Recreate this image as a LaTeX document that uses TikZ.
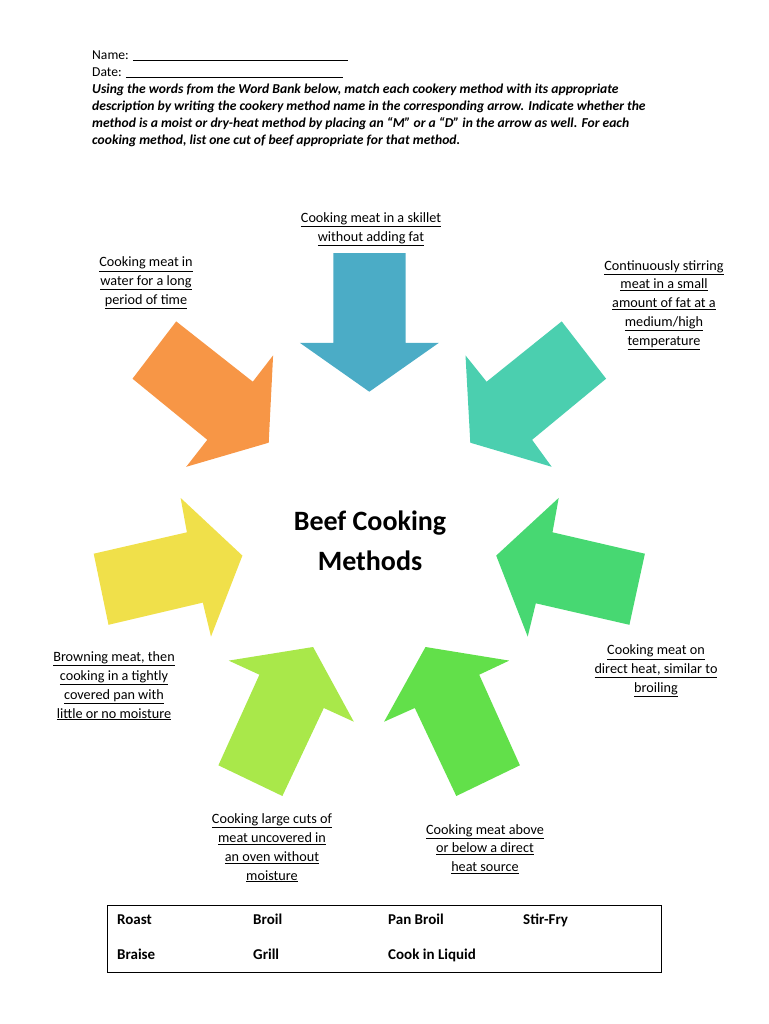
\documentclass[tikz,border=0pt]{standalone}
\usepackage{fontspec}
\setmainfont{Carlito}
\definecolor{cblue}{HTML}{4BACC6}
\definecolor{corange}{HTML}{F79646}
\definecolor{cteal}{HTML}{4BCFAF}
\definecolor{cyellow}{HTML}{F0E04A}
\definecolor{cgreenr}{HTML}{47D872}
\definecolor{clight}{HTML}{A9E84A}
\definecolor{cgreen}{HTML}{62E04A}
\newcommand{\ulx}[1]{\underline{#1}}
\tikzset{lbl/.style={align=center,font=\fontsize{14.2}{18.8}\selectfont,inner sep=0pt},
hdr/.style={anchor=base west,font=\fontsize{13.6}{15}\selectfont,inner sep=0pt},
hdri/.style={hdr,font=\fontsize{13.6}{15}\selectfont\bfseries\itshape},
wb/.style={anchor=base west,font=\fontsize{15}{15}\selectfont\bfseries,inner sep=0pt}}
\begin{document}
\begin{tikzpicture}[x=1pt,y=-1pt]
\useasboundingbox (0,0) rectangle (768,1024);
\node[hdr] (n1) at (92,60) {Name: \rule[-1pt]{215pt}{0.6pt}};
\node[hdr] (n2) at (92,77) {Date: \rule[-1pt]{217pt}{0.6pt}};
\node[hdri] (n3) at (92,94) {Using the words from the Word Bank below, match each cookery method with its appropriate};
\node[hdri] (n4) at (92,111) {description by writing the cookery method name in the corresponding arrow. Indicate whether the};
\node[hdri] (n5) at (92,128) {method is a moist or dry-heat method by placing an “M” or a “D” in the arrow as well. For each};
\node[hdri] (n6) at (92,145) {cooking method, list one cut of beef appropriate for that method.};
% arrows
\fill[cblue] (333.4,253)--(405.6,253)--(405.6,342.8)--(438.9,342.8)--(369.3,391.7)--(299.8,342.8)--(333.4,342.8)--cycle;
\fill[corange] (176.2,321.4)--(252.8,381.7)--(273.1,355.4)--(268.7,442.7)--(186.2,466.8)--(207.3,439.8)--(132.5,378.7)--cycle;
\fill[cteal] (561.7,321.4)--(606.1,378.7)--(532.1,439.8)--(551.7,466.8)--(470.3,442.7)--(465.5,355.4)--(486.6,381.7)--cycle;
\fill[cyellow] (93.7,553.7)--(186.9,532.3)--(180.6,497.9)--(242.4,555.6)--(211,636.6)--(202.8,602.6)--(108.5,624.8)--cycle;
\fill[cgreenr] (644.9,553.7)--(629.4,624.8)--(535.8,603.3)--(527.7,636.6)--(496.2,555.6)--(558.7,497.9)--(552.5,532.3)--cycle;
\fill[clight] (313.1,647)--(353.8,721.7)--(323.8,708)--(282.4,796)--(218.4,765.3)--(259.4,674.7)--(228.7,660.6)--cycle;
\fill[cgreen] (425.5,647)--(509.2,660.6)--(479.2,674.7)--(519.9,765.3)--(456.3,796)--(414.8,708)--(384.1,721.7)--cycle;
% title
\node[align=center,font=\fontsize{28}{40}\selectfont\bfseries,inner sep=0pt] (title) at (370,541) {Beef Cooking\\Methods};
% labels
\node[lbl] (l1) at (371,229) {\ulx{Cooking meat in a skillet}\\\ulx{without adding fat}};
\node[lbl] (l2) at (146,283) {\ulx{Cooking meat in}\\\ulx{water for a long}\\\ulx{period of time}};
\node[lbl] (l3) at (664,305) {\ulx{Continuously stirring}\\\ulx{meat in a small}\\\ulx{amount of fat at a}\\\ulx{medium/high}\\\ulx{temperature}};
\node[lbl] (l4) at (656,671) {\ulx{Cooking meat on}\\\ulx{direct heat, similar to}\\\ulx{broiling}};
\node[lbl] (l5) at (114,686) {\ulx{Browning meat, then}\\\ulx{cooking in a tightly}\\\ulx{covered pan with}\\\ulx{little or no moisture}};
\node[lbl] (l6) at (272,848) {\ulx{Cooking large cuts of}\\\ulx{meat uncovered in}\\\ulx{an oven without}\\\ulx{moisture}};
\node[lbl] (l7) at (485,849) {\ulx{Cooking meat above}\\\ulx{or below a direct}\\\ulx{heat source}};
% word bank
\draw[line width=0.8pt] (107,905) rectangle (661,972);
\node[wb] (w1) at (117,924) {Roast};
\node[wb] (w2) at (253,924) {Broil};
\node[wb] (w3) at (388,924) {Pan Broil};
\node[wb] (w4) at (523,924) {Stir-Fry};
\node[wb] (w5) at (117,959) {Braise};
\node[wb] (w6) at (253,959) {Grill};
\node[wb] (w7) at (388,959) {Cook in Liquid};
\end{tikzpicture}
\end{document}
